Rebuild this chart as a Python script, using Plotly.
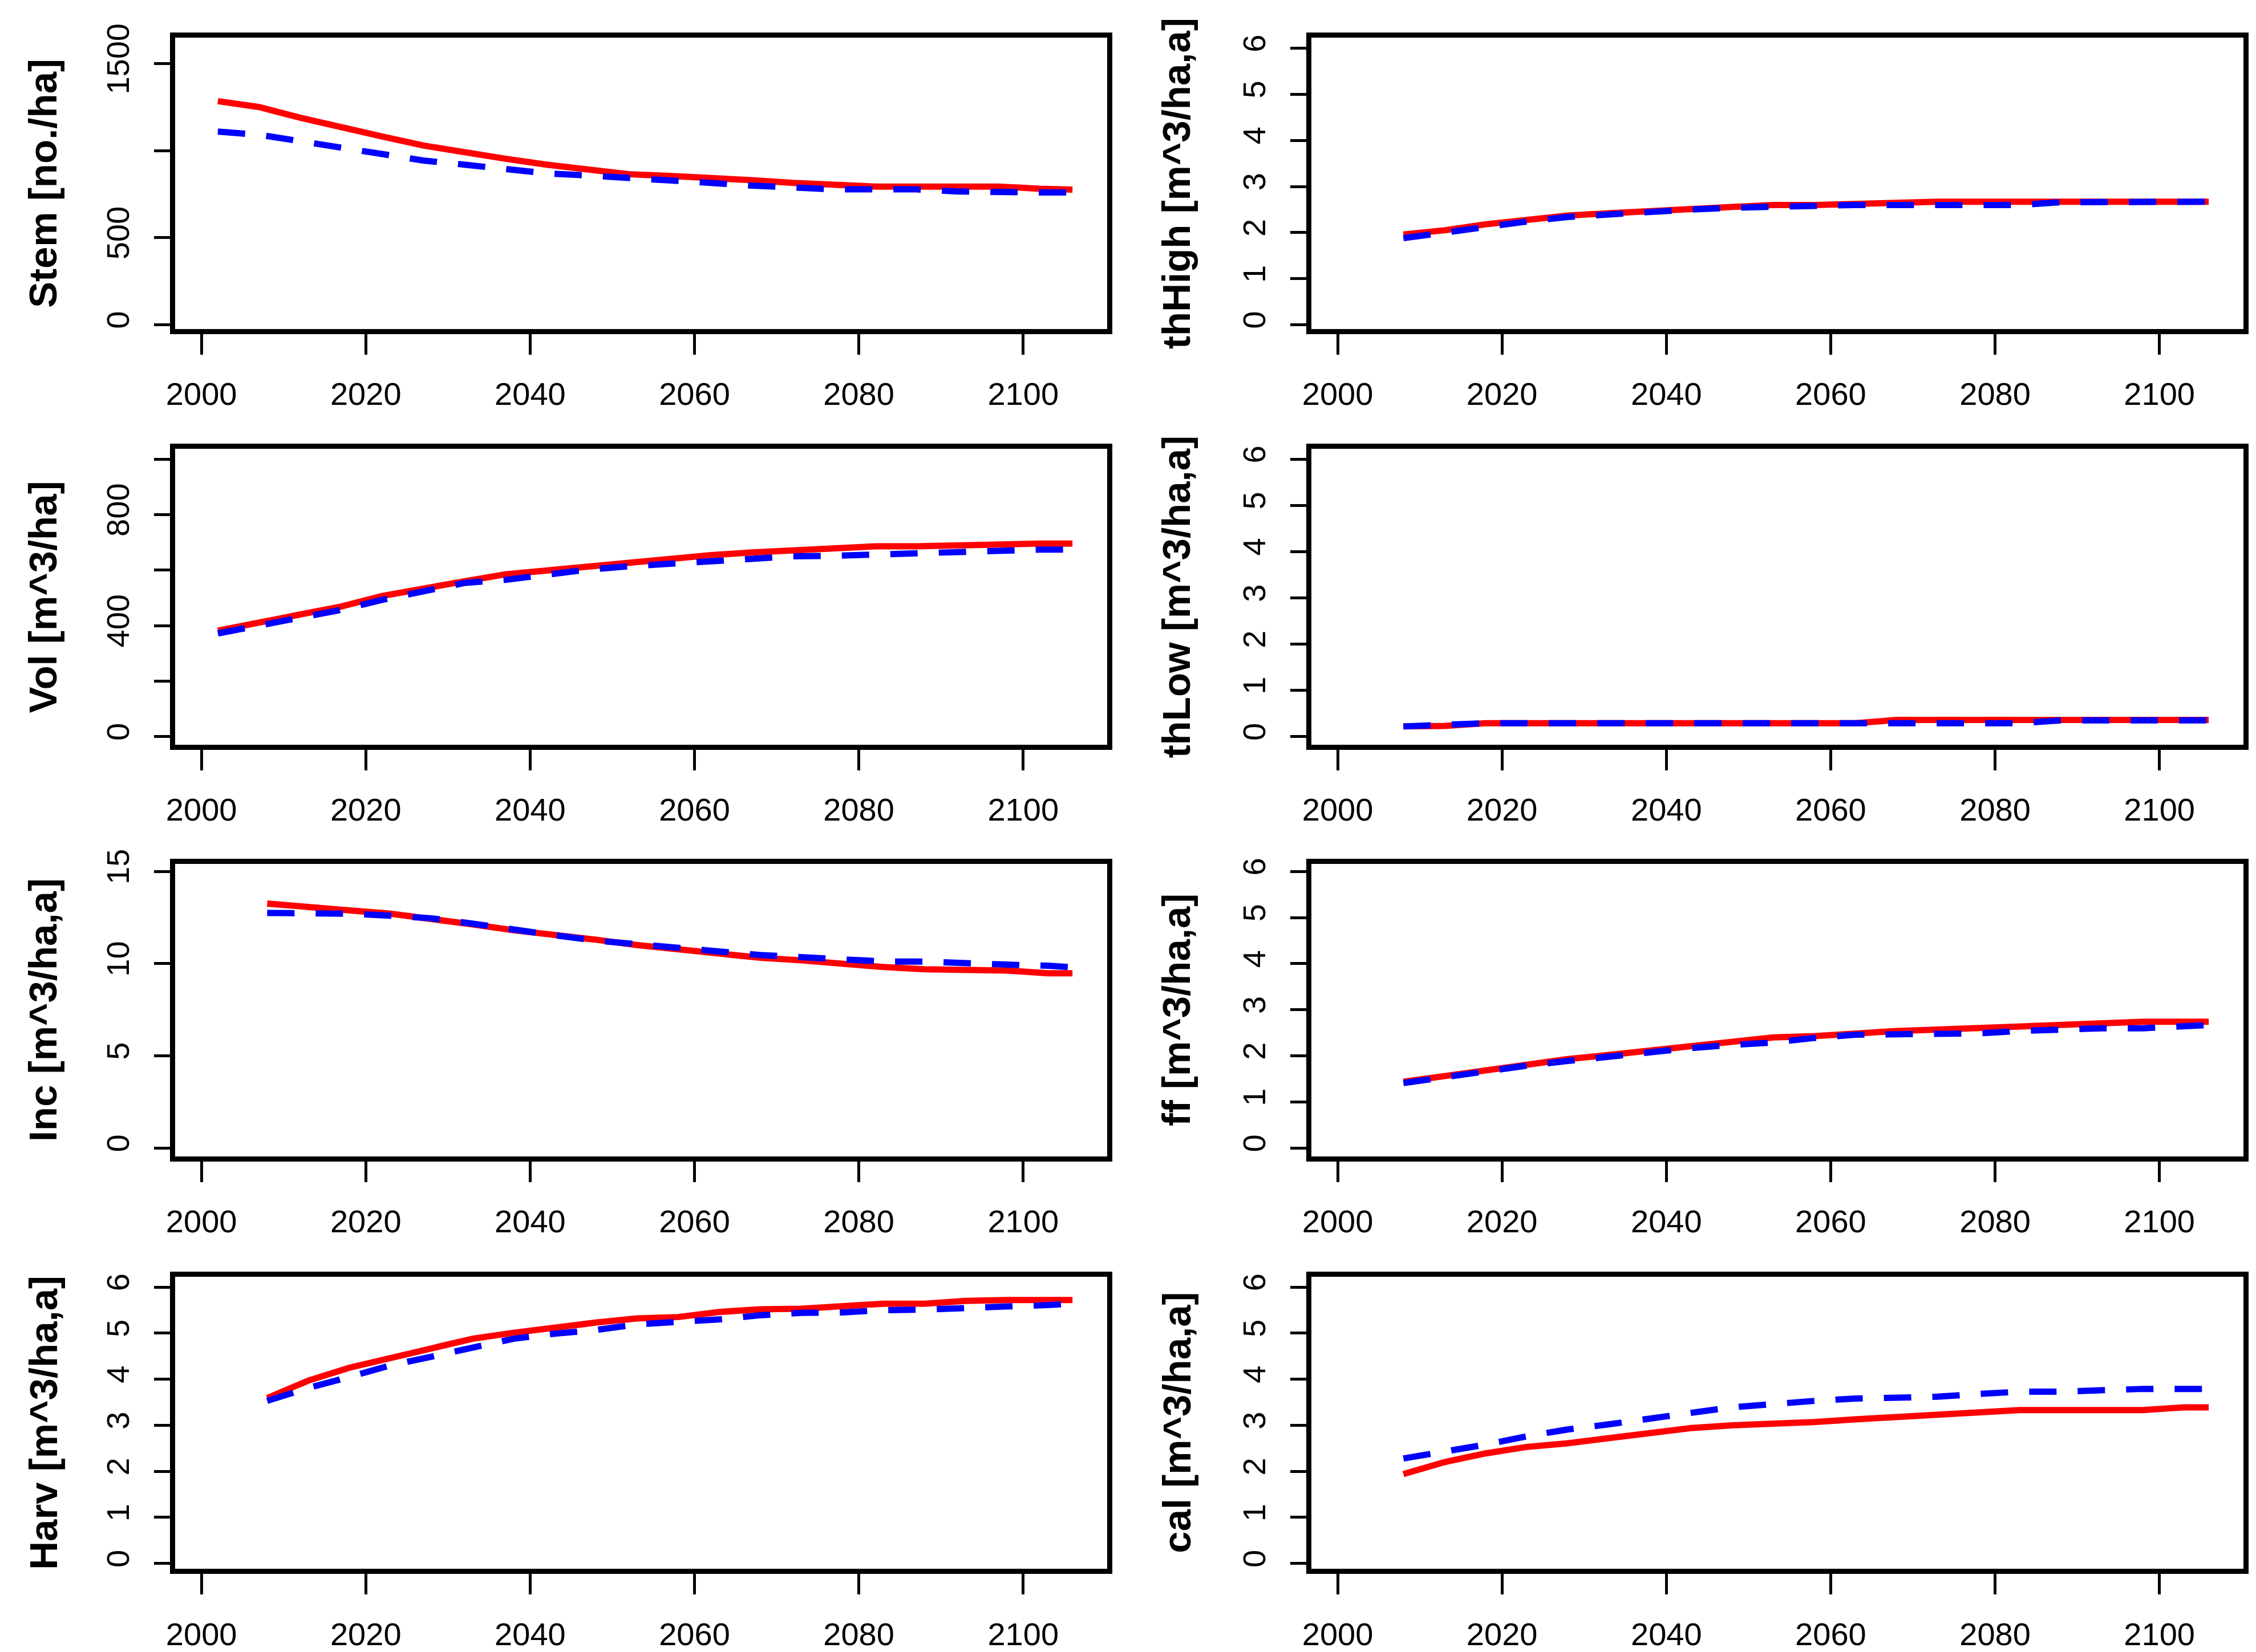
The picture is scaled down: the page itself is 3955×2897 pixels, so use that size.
import plotly.graph_objects as go

# ---------------- data ----------------
years_state = [2002, 2007, 2012, 2017, 2022, 2027, 2032, 2037, 2042, 2047, 2052,
               2057, 2062, 2067, 2072, 2077, 2082, 2087, 2092, 2097, 2102, 2106]
years_flow = [2008, 2013, 2018, 2023, 2028, 2033, 2038, 2043, 2048, 2053, 2058,
              2063, 2068, 2073, 2078, 2083, 2088, 2093, 2098, 2103, 2106]

stem_red = [1285, 1251, 1190, 1133, 1082, 1030, 990, 954, 920, 890, 865,
            855, 846, 831, 815, 805, 794, 794, 794, 794, 782, 777]
stem_blue = [1110, 1092, 1055, 1020, 985, 944, 920, 892, 870, 858, 846,
             832, 815, 800, 789, 778, 778, 778, 766, 760, 760, 760]

vol_red = [382, 411, 440, 469, 507, 531, 560, 585, 599, 614, 628,
           644, 654, 664, 671, 676, 686, 686, 691, 696, 696, 696]
vol_blue = [372, 399, 428, 457, 493, 522, 554, 565, 585, 602, 614,
            623, 631, 641, 650, 652, 657, 664, 666, 671, 674, 674]

inc_red = [13.26, 13.11, 12.89, 12.71, 12.46, 12.13, 11.81, 11.59, 11.30, 11.01, 10.76,
           10.53, 10.32, 10.18, 9.99, 9.82, 9.70, 9.66, 9.63, 9.48, 9.48]
inc_blue = [12.75, 12.75, 12.71, 12.60, 12.46, 12.17, 11.83, 11.54, 11.25, 11.05, 10.86,
            10.64, 10.47, 10.35, 10.24, 10.12, 10.11, 9.99, 9.95, 9.89, 9.80]

harv_red = [3.59, 3.97, 4.25, 4.47, 4.66, 4.88, 5.01, 5.13, 5.23, 5.32, 5.35,
            5.46, 5.52, 5.53, 5.59, 5.64, 5.64, 5.70, 5.72, 5.72, 5.72]
harv_blue = [3.53, 3.81, 4.05, 4.30, 4.49, 4.67, 4.88, 4.99, 5.07, 5.19, 5.23,
             5.30, 5.39, 5.44, 5.45, 5.50, 5.51, 5.53, 5.58, 5.61, 5.64]

thhigh_red = [1.96, 2.05, 2.18, 2.27, 2.37, 2.42, 2.47, 2.51, 2.56, 2.60, 2.60,
              2.63, 2.67, 2.67, 2.67, 2.67, 2.67, 2.67, 2.67, 2.67, 2.67]
thhigh_blue = [1.88, 2.01, 2.14, 2.24, 2.34, 2.40, 2.46, 2.50, 2.54, 2.56, 2.60,
               2.60, 2.60, 2.60, 2.60, 2.60, 2.66, 2.67, 2.67, 2.67, 2.67]

thlow_red = [0.22, 0.23, 0.29, 0.29, 0.29, 0.29, 0.29, 0.29, 0.29, 0.29, 0.29,
             0.29, 0.36, 0.36, 0.36, 0.36, 0.36, 0.36, 0.36, 0.36, 0.36]
thlow_blue = [0.22, 0.27, 0.29, 0.29, 0.29, 0.29, 0.29, 0.29, 0.29, 0.29, 0.29,
              0.29, 0.29, 0.29, 0.29, 0.29, 0.35, 0.35, 0.35, 0.35, 0.35]

ff_red = [1.44, 1.57, 1.70, 1.82, 1.93, 2.02, 2.11, 2.21, 2.29, 2.40, 2.43,
          2.49, 2.54, 2.57, 2.60, 2.66, 2.66, 2.69, 2.74, 2.74, 2.74]
ff_blue = [1.41, 1.54, 1.67, 1.79, 1.89, 1.99, 2.07, 2.17, 2.24, 2.29, 2.39,
           2.46, 2.47, 2.47, 2.49, 2.54, 2.58, 2.60, 2.60, 2.63, 2.67]

cal_red = [1.94, 2.20, 2.39, 2.53, 2.61, 2.72, 2.86, 2.94, 3.00, 3.02, 3.07,
           3.13, 3.18, 3.21, 3.27, 3.33, 3.33, 3.33, 3.33, 3.39, 3.39]
cal_blue = [2.28, 2.42, 2.58, 2.76, 2.91, 3.02, 3.16, 3.27, 3.39, 3.47, 3.53,
            3.58, 3.59, 3.62, 3.68, 3.73, 3.73, 3.77, 3.79, 3.79, 3.79]

x_ticks = [2000, 2020, 2040, 2060, 2080, 2100]
stem_ticks = [0, 500, 1000, 1500]
stem_labels = ["0", "500", "", "1500"]
vol_ticks = [0, 200, 400, 600, 800, 1000]
vol_labels = ["0", "", "400", "", "800", ""]
inc_ticks = [0, 5, 10, 15]
inc_labels = ["0", "5", "10", "15"]
six_ticks = [0, 1, 2, 3, 4, 5, 6]
six_labels = ["0", "1", "2", "3", "4", "5", "6"]

titles = ["Stem [no./ha]", "thHigh [m^3/ha,a]", "Vol [m^3/ha]", "thLow [m^3/ha,a]",
          "Inc [m^3/ha,a]", "ff [m^3/ha,a]", "Harv [m^3/ha,a]", "cal [m^3/ha,a]"]

# ---------------- layout geometry (pixels) ----------------
W, H = 3955, 2897
col_x = [(292.5, 1932.5), (2292.5, 3932.5)]
row_y = [(40, 556.5), (769, 1293), (1504, 2022), (2235, 2753)]
title_x = [60, 2055]
x_range = [1996.82, 2110.2]

panels = [
    (years_state, stem_red, stem_blue, [-24, 1651], stem_ticks, stem_labels),
    (years_flow, thhigh_red, thhigh_blue, [-0.09, 6.233], six_ticks, six_labels),
    (years_state, vol_red, vol_blue, [-29.5, 1037], vol_ticks, vol_labels),
    (years_flow, thlow_red, thlow_blue, [-0.177, 6.222], six_ticks, six_labels),
    (years_flow, inc_red, inc_blue, [-0.444, 15.41], inc_ticks, inc_labels),
    (years_flow, ff_red, ff_blue, [-0.178, 6.165], six_ticks, six_labels),
    (years_flow, harv_red, harv_blue, [-0.12, 6.229], six_ticks, six_labels),
    (years_flow, cal_red, cal_blue, [-0.12, 6.229], six_ticks, six_labels),
]

FONT = "Liberation Sans, Arial, sans-serif"
fig = go.Figure()
layout = dict(
    width=W, height=H, margin=dict(l=0, r=0, t=0, b=0),
    paper_bgcolor="white", plot_bgcolor="white", showlegend=False,
    annotations=[],
)

for i, (xs, red, blue, yr, tv, tt) in enumerate(panels):
    n = i + 1
    r, c = divmod(i, 2)
    xn = "x" if n == 1 else f"x{n}"
    yn = "y" if n == 1 else f"y{n}"
    fig.add_trace(go.Scatter(x=xs, y=red, mode="lines", xaxis=xn, yaxis=yn,
                             line=dict(color="#ff0000", width=11)))
    fig.add_trace(go.Scatter(x=xs, y=blue, mode="lines", xaxis=xn, yaxis=yn,
                             line=dict(color="#0000ff", width=11, dash="48px,37px")))
    x0, x1 = col_x[c]
    y0, y1 = row_y[r]
    xa = dict(domain=[x0 / W, x1 / W], range=x_range, anchor=yn,
              tickvals=x_ticks, ticks="outside", ticklen=36, tickwidth=5,
              tickcolor="black", showline=True, linewidth=9, linecolor="black",
              mirror=True, showgrid=False, zeroline=False,
              tickfont=dict(family=FONT, size=56, color="black"),
              ticklabelstandoff=21)
    ya = dict(domain=[1 - y1 / H, 1 - y0 / H], range=yr, anchor=xn,
              tickvals=tv, ticktext=tt, tickangle=-90, ticks="outside",
              ticklen=28, tickwidth=5, tickcolor="black", showline=True,
              linewidth=9, linecolor="black", mirror=True, showgrid=False,
              zeroline=False, tickfont=dict(family=FONT, size=56, color="black"),
              ticklabelstandoff=22)
    layout["xaxis" if n == 1 else f"xaxis{n}"] = xa
    layout["yaxis" if n == 1 else f"yaxis{n}"] = ya
    layout["annotations"].append(dict(
        text="<b>" + titles[i] + "</b>", xref="paper", yref="paper",
        x=title_x[c] / W, y=1 - (y0 + y1) / 2 / H, textangle=-90,
        showarrow=False, xanchor="center", yanchor="middle",
        font=dict(family=FONT, size=69, color="black")))

fig.update_layout(**layout)
fig.write_html("out.html", config={"responsive": False, "displayModeBar": False},
               post_script="document.body.style.margin='0';document.body.style.overflow='hidden';")
